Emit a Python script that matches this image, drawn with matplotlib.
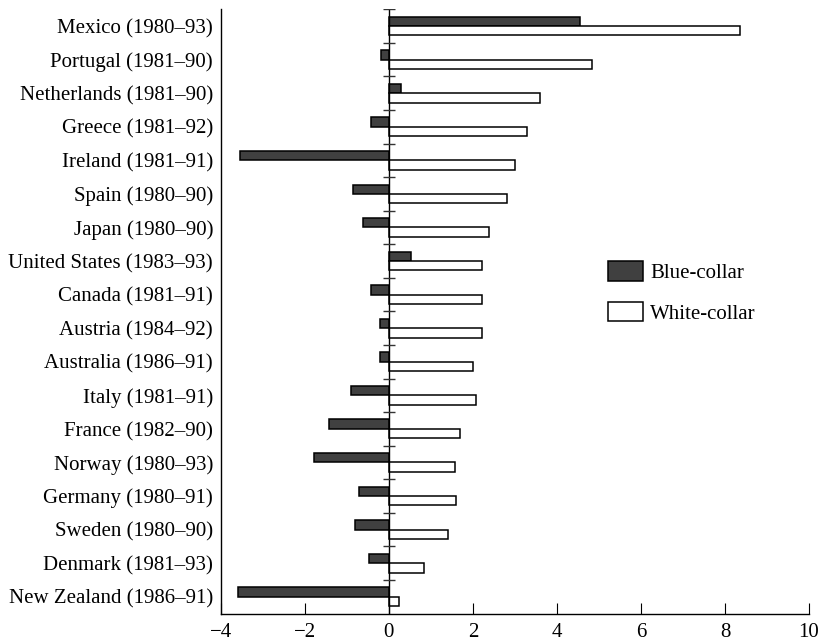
import numpy as np
import matplotlib
matplotlib.use("Agg")
import matplotlib.pyplot as plt

plt.rcParams['font.family'] = ['Liberation Serif', 'DejaVu Serif']

# countries top to bottom
countries = ["Mexico (1980–93)", "Portugal (1981–90)", "Netherlands (1981–90)",
             "Greece (1981–92)", "Ireland (1981–91)", "Spain (1980–90)",
             "Japan (1980–90)", "United States (1983–93)", "Canada (1981–91)",
             "Austria (1984–92)", "Australia (1986–91)", "Italy (1981–91)",
             "France (1982–90)", "Norway (1980–93)", "Germany (1980–91)",
             "Sweden (1980–90)", "Denmark (1981–93)", "New Zealand (1986–91)"]
blue_collar = [4.55, -0.18, 0.28, -0.43, -3.55, -0.85, -0.62, 0.53, -0.42,
               -0.20, -0.20, -0.89, -1.43, -1.79, -0.70, -0.80, -0.46, -3.59]
white_collar = [8.36, 4.83, 3.60, 3.30, 3.00, 2.81, 2.38, 2.22, 2.21,
                2.23, 2.00, 2.07, 1.69, 1.57, 1.59, 1.42, 0.83, 0.25]
xticks = [-4, -2, 0, 2, 4, 6, 8, 10]

fig = plt.figure(figsize=(8.24, 6.43), dpi=100)
ax = fig.add_axes([220.7/824, (643-613.5)/643, (809-220.7)/824, (613.5-9.3)/643])

y = np.arange(len(countries))
h = 0.28
ax.barh(y - h/2, blue_collar, height=h, color='#404040', edgecolor='black',
        linewidth=1.1, label='Blue-collar')
ax.barh(y + h/2, white_collar, height=h, color='white', edgecolor='black',
        linewidth=1.1, label='White-collar')

# zero line with little ticks between the countries
ax.axvline(0, color='black', linewidth=1.0, zorder=3)
bounds = np.arange(len(countries)) - 0.5
ax.hlines(bounds, -0.14, 0.14, color='#333333', linewidth=1.0, zorder=3)

ax.set_xlim(-4, 10)
ax.set_ylim(len(countries) - 0.5, -0.5)
ax.set_xticks(xticks)
ax.set_yticks(y)
ax.set_yticklabels(countries)

ax.spines['top'].set_visible(False)
ax.spines['right'].set_visible(False)
ax.spines['left'].set_linewidth(1.0)
ax.spines['bottom'].set_linewidth(1.0)
ax.tick_params(axis='x', direction='in', length=8, width=0.8, labelsize=15, pad=7)
ax.tick_params(axis='y', length=0, labelsize=15, pad=5.5)

leg = ax.legend(loc='upper left', bbox_to_anchor=(607.7/824, 1 - 261/643),
                bbox_transform=fig.transFigure, frameon=False, fontsize=15,
                handlelength=1.7, handleheight=1.08, handletextpad=0.35,
                labelspacing=0.9, borderpad=0, borderaxespad=0)

plt.savefig('out.png', dpi=100)
